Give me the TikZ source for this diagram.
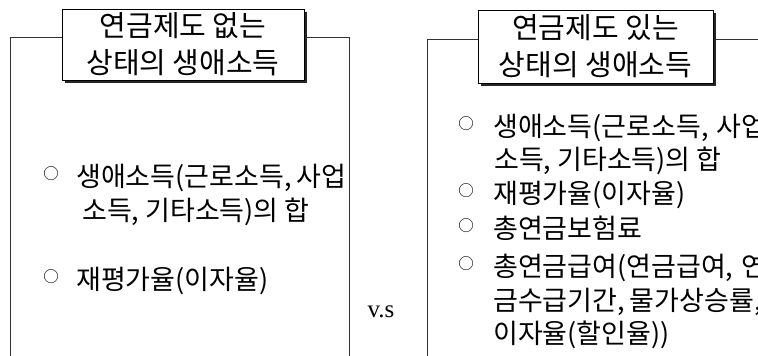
\documentclass[tikz,border=0pt]{standalone}
\usepackage{fontspec}
\usetikzlibrary{shadows}
\newfontfamily\kr{Noto Sans CJK KR}
\newfontfamily\vsfont{Liberation Serif}
\begin{document}
\begin{tikzpicture}[x=1pt,y=-1pt,
  frame/.style={draw=black!80, line width=1pt},
  titlebox/.style={draw=black, line width=1pt, fill=white, align=center, inner sep=0pt,
    font=\kr\fontsize{29}{37}\selectfont,
    general shadow={fill=black!85, shadow xshift=2.5pt, shadow yshift=-2.5pt}},
  item/.style={anchor=west, inner sep=0pt, font=\kr\fontsize{27}{27}\selectfont,
    text height=23.8pt, text depth=3.2pt},
  bul/.style={inner sep=0pt, font=\kr\fontsize{15.5}{15.5}\selectfont},
  vs/.style={inner sep=0pt, font=\vsfont\fontsize{25}{25}\selectfont}]
\useasboundingbox (0,0) rectangle (758,356);
\clip (0,0) rectangle (758,356);
\fill[white] (0,0) rectangle (758,356);

% left frame
\draw[frame] (10,360) -- (10,37) -- (349,37) -- (349,360);
\node[titlebox, minimum width=242pt, minimum height=71pt] (t1) at (183,44.5)
  {연금제도 없는\\상태의 생애소득};

% right frame
\draw[frame] (427,360) -- (427,39) -- (770,39);
\node[titlebox, minimum width=235pt, minimum height=73pt] (t2) at (595.5,46.5)
  {연금제도 있는\\상태의 생애소득};

% left items
\node[bul] (lb1) at (51,174) {○};
\node[item] (li1) at (76,176) {생애소득(근로소득,\hspace{5pt}사업};
\node[item] (li2) at (82,210) {소득, 기타소득)의\hspace{6pt}합};
\node[bul] (lb2) at (51,277) {○};
\node[item] (li3) at (76,279) {재평가율(이자율)};

% vs
\node[vs] (vs) at (381,312) {v.s};

% right items
\node[bul] (rb1) at (466,124) {○};
\node[item] (ri1) at (493,126) {생애소득(근로소득,\hspace{8pt}사업};
\node[item] (ri2) at (494,159) {소득, 기타소득)의\hspace{6pt}합};
\node[bul] (rb2) at (466,191) {○};
\node[item] (ri3) at (493,193) {재평가율(이자율)};
\node[bul] (rb3) at (466,226) {○};
\node[item] (ri4) at (493,228) {총연금보험료};
\node[bul] (rb4) at (466,264) {○};
\node[item] (ri5) at (493,266) {총연금급여(연금급여,\hspace{8pt}연};
\node[item] (ri6) at (493,300) {금수급기간,\hspace{5pt}물가상승률,};
\node[item] (ri7) at (493,333) {이자율(할인율))};
\end{tikzpicture}
\end{document}
